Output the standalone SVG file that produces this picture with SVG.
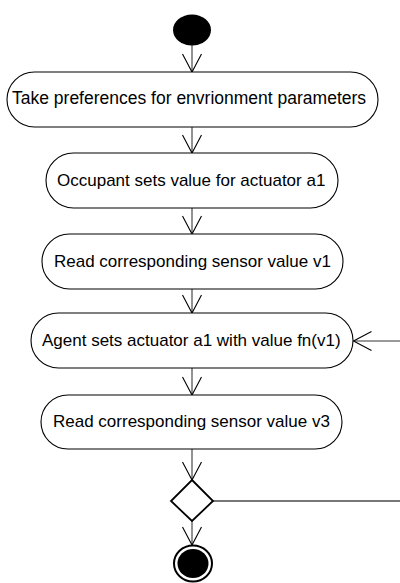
<svg xmlns="http://www.w3.org/2000/svg" width="400" height="583" viewBox="0 0 400 583">
<defs>
<marker id="arr" viewBox="-1 -11 22 22" markerWidth="22" markerHeight="22" refX="18" refY="0" markerUnits="userSpaceOnUse" orient="auto" overflow="visible">
<path d="M0,-9.5 L18,0 L0,9.5" fill="none" stroke="#000" stroke-width="1.1"/>
</marker>
<style>
.node rect{fill:#fff;stroke:#000;stroke-width:1.1}
.node text{font-family:"Liberation Sans",Arial,sans-serif;font-size:17px;fill:#000}
.conn{fill:none;stroke:#777;stroke-width:1.6;marker-end:url(#arr)}
.plain{fill:none;stroke:#777;stroke-width:1.8}
</style>
</defs>
<g id="connectors">
<line class="conn" x1="192" y1="45" x2="192" y2="72"/>
<line class="conn" x1="192" y1="127" x2="192" y2="153"/>
<line class="conn" x1="192" y1="208" x2="192" y2="234"/>
<line class="conn" x1="192" y1="289" x2="192" y2="313"/>
<line class="conn" x1="192" y1="368" x2="192" y2="395"/>
<line class="conn" x1="192" y1="449" x2="192" y2="480"/>
<line class="conn" x1="192" y1="521" x2="192" y2="545"/>
<path class="plain" d="M213,501 H410 V341"/>
<line class="conn" x1="410" y1="341" x2="353.5" y2="341"/>
</g>
<g id="start">
<ellipse cx="192" cy="30" rx="19" ry="15.5" fill="#000"/>
</g>
<g id="n1" class="node">
<rect x="7" y="72" width="371" height="55" rx="27.5" ry="27.5"/>
<text x="12" y="104" style="font-size:17.5px">Take preferences for envrionment parameters</text>
</g>
<g id="n2" class="node">
<rect x="46" y="153" width="292" height="55" rx="27.5" ry="27.5"/>
<text x="57" y="186">Occupant sets value for actuator a1</text>
</g>
<g id="n3" class="node">
<rect x="42" y="234" width="301" height="55" rx="27.5" ry="27.5"/>
<text x="54" y="266.5">Read corresponding sensor value v1</text>
</g>
<g id="n4" class="node">
<rect x="31" y="313" width="322" height="55" rx="27.5" ry="27.5"/>
<text x="42" y="345.5">Agent sets actuator a1 with value fn(v1)</text>
</g>
<g id="n5" class="node">
<rect x="41" y="395" width="301" height="54" rx="27" ry="27"/>
<text x="53" y="427">Read corresponding sensor value v3</text>
</g>
<g id="decision">
<polygon points="192,480 213,501 192,521 171,501" fill="#fff" stroke="#000" stroke-width="1.8"/>
</g>
<g id="end">
<ellipse cx="193" cy="563.5" rx="19" ry="18" fill="#fff" stroke="#000" stroke-width="2"/>
<ellipse cx="193" cy="563.5" rx="15.5" ry="14.5" fill="#000"/>
</g>
</svg>
